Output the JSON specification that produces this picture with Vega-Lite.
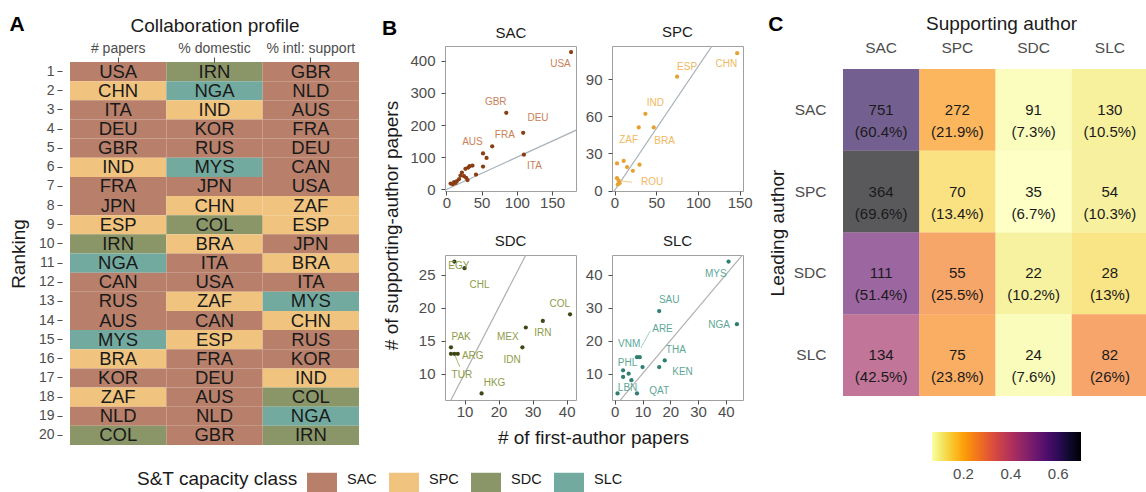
{
  "$schema": "https://vega.github.io/schema/vega-lite/v6.json",
  "padding": {"left": 9, "top": 14, "right": 0, "bottom": 0},
  "config": {
    "font": "Liberation Sans",
    "view": {"stroke": null},
    "axis": {"labelColor": "#4d4d4d", "tickColor": "#4d4d4d", "titleColor": "#1a1a1a", "labelFontSize": 15, "titleFontSize": 19, "titleFontWeight": "normal", "grid": false, "domain": false, "tickSize": 4, "labelPadding": 3},
    "title": {"fontWeight": "normal", "color": "#1a1a1a"},
    "legend": {"padding": 0}
  },
  "datasets": {
    "profile": [
      {"metric": "# papers", "rank": 1, "country": "USA", "cls": "SAC"},
      {"metric": "# papers", "rank": 2, "country": "CHN", "cls": "SPC"},
      {"metric": "# papers", "rank": 3, "country": "ITA", "cls": "SAC"},
      {"metric": "# papers", "rank": 4, "country": "DEU", "cls": "SAC"},
      {"metric": "# papers", "rank": 5, "country": "GBR", "cls": "SAC"},
      {"metric": "# papers", "rank": 6, "country": "IND", "cls": "SPC"},
      {"metric": "# papers", "rank": 7, "country": "FRA", "cls": "SAC"},
      {"metric": "# papers", "rank": 8, "country": "JPN", "cls": "SAC"},
      {"metric": "# papers", "rank": 9, "country": "ESP", "cls": "SPC"},
      {"metric": "# papers", "rank": 10, "country": "IRN", "cls": "SDC"},
      {"metric": "# papers", "rank": 11, "country": "NGA", "cls": "SLC"},
      {"metric": "# papers", "rank": 12, "country": "CAN", "cls": "SAC"},
      {"metric": "# papers", "rank": 13, "country": "RUS", "cls": "SAC"},
      {"metric": "# papers", "rank": 14, "country": "AUS", "cls": "SAC"},
      {"metric": "# papers", "rank": 15, "country": "MYS", "cls": "SLC"},
      {"metric": "# papers", "rank": 16, "country": "BRA", "cls": "SPC"},
      {"metric": "# papers", "rank": 17, "country": "KOR", "cls": "SAC"},
      {"metric": "# papers", "rank": 18, "country": "ZAF", "cls": "SPC"},
      {"metric": "# papers", "rank": 19, "country": "NLD", "cls": "SAC"},
      {"metric": "# papers", "rank": 20, "country": "COL", "cls": "SDC"},
      {"metric": "% domestic", "rank": 1, "country": "IRN", "cls": "SDC"},
      {"metric": "% domestic", "rank": 2, "country": "NGA", "cls": "SLC"},
      {"metric": "% domestic", "rank": 3, "country": "IND", "cls": "SPC"},
      {"metric": "% domestic", "rank": 4, "country": "KOR", "cls": "SAC"},
      {"metric": "% domestic", "rank": 5, "country": "RUS", "cls": "SAC"},
      {"metric": "% domestic", "rank": 6, "country": "MYS", "cls": "SLC"},
      {"metric": "% domestic", "rank": 7, "country": "JPN", "cls": "SAC"},
      {"metric": "% domestic", "rank": 8, "country": "CHN", "cls": "SPC"},
      {"metric": "% domestic", "rank": 9, "country": "COL", "cls": "SDC"},
      {"metric": "% domestic", "rank": 10, "country": "BRA", "cls": "SPC"},
      {"metric": "% domestic", "rank": 11, "country": "ITA", "cls": "SAC"},
      {"metric": "% domestic", "rank": 12, "country": "USA", "cls": "SAC"},
      {"metric": "% domestic", "rank": 13, "country": "ZAF", "cls": "SPC"},
      {"metric": "% domestic", "rank": 14, "country": "CAN", "cls": "SAC"},
      {"metric": "% domestic", "rank": 15, "country": "ESP", "cls": "SPC"},
      {"metric": "% domestic", "rank": 16, "country": "FRA", "cls": "SAC"},
      {"metric": "% domestic", "rank": 17, "country": "DEU", "cls": "SAC"},
      {"metric": "% domestic", "rank": 18, "country": "AUS", "cls": "SAC"},
      {"metric": "% domestic", "rank": 19, "country": "NLD", "cls": "SAC"},
      {"metric": "% domestic", "rank": 20, "country": "GBR", "cls": "SAC"},
      {"metric": "% intl: support", "rank": 1, "country": "GBR", "cls": "SAC"},
      {"metric": "% intl: support", "rank": 2, "country": "NLD", "cls": "SAC"},
      {"metric": "% intl: support", "rank": 3, "country": "AUS", "cls": "SAC"},
      {"metric": "% intl: support", "rank": 4, "country": "FRA", "cls": "SAC"},
      {"metric": "% intl: support", "rank": 5, "country": "DEU", "cls": "SAC"},
      {"metric": "% intl: support", "rank": 6, "country": "CAN", "cls": "SAC"},
      {"metric": "% intl: support", "rank": 7, "country": "USA", "cls": "SAC"},
      {"metric": "% intl: support", "rank": 8, "country": "ZAF", "cls": "SPC"},
      {"metric": "% intl: support", "rank": 9, "country": "ESP", "cls": "SPC"},
      {"metric": "% intl: support", "rank": 10, "country": "JPN", "cls": "SAC"},
      {"metric": "% intl: support", "rank": 11, "country": "BRA", "cls": "SPC"},
      {"metric": "% intl: support", "rank": 12, "country": "ITA", "cls": "SAC"},
      {"metric": "% intl: support", "rank": 13, "country": "MYS", "cls": "SLC"},
      {"metric": "% intl: support", "rank": 14, "country": "CHN", "cls": "SPC"},
      {"metric": "% intl: support", "rank": 15, "country": "RUS", "cls": "SAC"},
      {"metric": "% intl: support", "rank": 16, "country": "KOR", "cls": "SAC"},
      {"metric": "% intl: support", "rank": 17, "country": "IND", "cls": "SPC"},
      {"metric": "% intl: support", "rank": 18, "country": "COL", "cls": "SDC"},
      {"metric": "% intl: support", "rank": 19, "country": "NGA", "cls": "SLC"},
      {"metric": "% intl: support", "rank": 20, "country": "IRN", "cls": "SDC"}
    ],
    "pts": [
      {"cls": "SAC", "x": 177, "y": 427}, {"cls": "SAC", "x": 85, "y": 238}, {"cls": "SAC", "x": 109, "y": 176},
      {"cls": "SAC", "x": 110, "y": 108}, {"cls": "SAC", "x": 65, "y": 134}, {"cls": "SAC", "x": 52, "y": 112},
      {"cls": "SAC", "x": 57, "y": 98}, {"cls": "SAC", "x": 52, "y": 71}, {"cls": "SAC", "x": 42, "y": 46},
      {"cls": "SAC", "x": 37, "y": 74}, {"cls": "SAC", "x": 33, "y": 72}, {"cls": "SAC", "x": 31, "y": 68},
      {"cls": "SAC", "x": 27, "y": 64}, {"cls": "SAC", "x": 22, "y": 52}, {"cls": "SAC", "x": 20, "y": 43},
      {"cls": "SAC", "x": 25, "y": 41}, {"cls": "SAC", "x": 28, "y": 36}, {"cls": "SAC", "x": 30, "y": 29},
      {"cls": "SAC", "x": 15, "y": 26}, {"cls": "SAC", "x": 11, "y": 23}, {"cls": "SAC", "x": 6, "y": 18},
      {"cls": "SAC", "x": 13, "y": 20}, {"cls": "SAC", "x": 9, "y": 16}, {"cls": "SAC", "x": 18, "y": 32},
      {"cls": "SPC", "x": 147, "y": 111}, {"cls": "SPC", "x": 75, "y": 92}, {"cls": "SPC", "x": 37, "y": 62},
      {"cls": "SPC", "x": 29, "y": 51}, {"cls": "SPC", "x": 47, "y": 51}, {"cls": "SPC", "x": 3, "y": 22},
      {"cls": "SPC", "x": 11, "y": 24}, {"cls": "SPC", "x": 15, "y": 19}, {"cls": "SPC", "x": 22, "y": 16},
      {"cls": "SPC", "x": 30, "y": 21}, {"cls": "SPC", "x": 3, "y": 10}, {"cls": "SPC", "x": 5, "y": 8},
      {"cls": "SPC", "x": 4, "y": 5}, {"cls": "SPC", "x": 6, "y": 6},
      {"cls": "SDC", "x": 7, "y": 27}, {"cls": "SDC", "x": 10, "y": 26}, {"cls": "SDC", "x": 41, "y": 19},
      {"cls": "SDC", "x": 33, "y": 18}, {"cls": "SDC", "x": 28, "y": 17}, {"cls": "SDC", "x": 27, "y": 14},
      {"cls": "SDC", "x": 15, "y": 7}, {"cls": "SDC", "x": 6, "y": 14}, {"cls": "SDC", "x": 6, "y": 13},
      {"cls": "SDC", "x": 7, "y": 13}, {"cls": "SDC", "x": 8, "y": 13},
      {"cls": "SLC", "x": 41, "y": 44}, {"cls": "SLC", "x": 44, "y": 25}, {"cls": "SLC", "x": 16, "y": 29},
      {"cls": "SLC", "x": 8, "y": 15}, {"cls": "SLC", "x": 9, "y": 15}, {"cls": "SLC", "x": 10, "y": 12},
      {"cls": "SLC", "x": 18, "y": 14}, {"cls": "SLC", "x": 16, "y": 12}, {"cls": "SLC", "x": 3, "y": 11},
      {"cls": "SLC", "x": 5, "y": 10}, {"cls": "SLC", "x": 3, "y": 9}, {"cls": "SLC", "x": 6, "y": 8},
      {"cls": "SLC", "x": 1, "y": 4}, {"cls": "SLC", "x": 8, "y": 4}
    ],
    "labs": [
      {"cls": "SAC", "x": 162, "y": 390, "name": "USA"}, {"cls": "SAC", "x": 70, "y": 272, "name": "GBR"},
      {"cls": "SAC", "x": 130, "y": 222, "name": "DEU"}, {"cls": "SAC", "x": 83, "y": 168, "name": "FRA"},
      {"cls": "SAC", "x": 37, "y": 147, "name": "AUS"}, {"cls": "SAC", "x": 125, "y": 72, "name": "ITA"},
      {"cls": "SPC", "x": 134, "y": 102, "name": "CHN"}, {"cls": "SPC", "x": 87, "y": 100, "name": "ESP"},
      {"cls": "SPC", "x": 49, "y": 71, "name": "IND"}, {"cls": "SPC", "x": 17, "y": 41, "name": "ZAF"},
      {"cls": "SPC", "x": 60, "y": 40, "name": "BRA"}, {"cls": "SPC", "x": 45, "y": 7, "name": "ROU"},
      {"cls": "SDC", "x": 8.3, "y": 26.3, "name": "EGY"}, {"cls": "SDC", "x": 14.4, "y": 23.5, "name": "CHL"},
      {"cls": "SDC", "x": 38, "y": 20.6, "name": "COL"}, {"cls": "SDC", "x": 33, "y": 16.1, "name": "IRN"},
      {"cls": "SDC", "x": 22.7, "y": 15.6, "name": "MEX"}, {"cls": "SDC", "x": 24, "y": 12.1, "name": "IDN"},
      {"cls": "SDC", "x": 18.8, "y": 8.6, "name": "HKG"}, {"cls": "SDC", "x": 9, "y": 15.6, "name": "PAK"},
      {"cls": "SDC", "x": 12.4, "y": 12.7, "name": "ARG"}, {"cls": "SDC", "x": 9.2, "y": 9.8, "name": "TUR"},
      {"cls": "SLC", "x": 36.4, "y": 40.2, "name": "MYS"}, {"cls": "SLC", "x": 19.6, "y": 32.2, "name": "SAU"},
      {"cls": "SLC", "x": 37.6, "y": 24.8, "name": "NGA"}, {"cls": "SLC", "x": 17.2, "y": 23.5, "name": "ARE"},
      {"cls": "SLC", "x": 5.2, "y": 19.1, "name": "VNM"}, {"cls": "SLC", "x": 22, "y": 17.3, "name": "THA"},
      {"cls": "SLC", "x": 4.6, "y": 13.3, "name": "PHL"}, {"cls": "SLC", "x": 24.4, "y": 10.6, "name": "KEN"},
      {"cls": "SLC", "x": 16, "y": 4.8, "name": "QAT"}, {"cls": "SLC", "x": 4.6, "y": 5.5, "name": "LBN"}
    ],
    "segs": [
      {"cls": "SPC", "x": 5, "y": 8, "x2": 21, "y2": 6.8},
      {"cls": "SDC", "x": 7, "y": 13, "x2": 8.6, "y2": 11},
      {"cls": "SLC", "x": 9.4, "y": 17.8, "x2": 12.8, "y2": 23}
    ],
    "diag": [
      {"cls": "SAC", "x": -100, "y": -100, "x2": 1000, "y2": 1000},
      {"cls": "SPC", "x": -100, "y": -100, "x2": 1000, "y2": 1000},
      {"cls": "SDC", "x": -100, "y": -100, "x2": 1000, "y2": 1000},
      {"cls": "SLC", "x": -100, "y": -100, "x2": 1000, "y2": 1000}
    ],
    "heat": [
      {"lead": "SAC", "support": "SAC", "share": 0.604, "label": "751\n(60.4%)"},
      {"lead": "SAC", "support": "SPC", "share": 0.219, "label": "272\n(21.9%)"},
      {"lead": "SAC", "support": "SDC", "share": 0.073, "label": "91\n(7.3%)"},
      {"lead": "SAC", "support": "SLC", "share": 0.105, "label": "130\n(10.5%)"},
      {"lead": "SPC", "support": "SAC", "share": 0.696, "label": "364\n(69.6%)"},
      {"lead": "SPC", "support": "SPC", "share": 0.134, "label": "70\n(13.4%)"},
      {"lead": "SPC", "support": "SDC", "share": 0.067, "label": "35\n(6.7%)"},
      {"lead": "SPC", "support": "SLC", "share": 0.103, "label": "54\n(10.3%)"},
      {"lead": "SDC", "support": "SAC", "share": 0.514, "label": "111\n(51.4%)"},
      {"lead": "SDC", "support": "SPC", "share": 0.255, "label": "55\n(25.5%)"},
      {"lead": "SDC", "support": "SDC", "share": 0.102, "label": "22\n(10.2%)"},
      {"lead": "SDC", "support": "SLC", "share": 0.13, "label": "28\n(13%)"},
      {"lead": "SLC", "support": "SAC", "share": 0.425, "label": "134\n(42.5%)"},
      {"lead": "SLC", "support": "SPC", "share": 0.238, "label": "75\n(23.8%)"},
      {"lead": "SLC", "support": "SDC", "share": 0.076, "label": "24\n(7.6%)"},
      {"lead": "SLC", "support": "SLC", "share": 0.26, "label": "82\n(26%)"}
    ]
  },
  "bounds": "flush",
  "columns": 4,
  "spacing": {"row": 64, "column": 36},
  "concat": [
    {
      "title": {"text": "A", "anchor": "start", "frame": "bounds", "fontSize": 21, "fontWeight": "bold", "color": "#000000", "offset": 0, "dy": 19},
      "width": 339,
      "height": 145,
      "data": {"name": "profile"},
      "encoding": {
        "x": {"field": "metric", "type": "nominal", "sort": ["# papers", "% domestic", "% intl: support"],
              "scale": {"range": [0, 289], "paddingInner": 0, "paddingOuter": 0},
              "axis": {"orient": "top", "title": "Collaboration profile", "titleX": 144.5, "labelAngle": 0, "offset": -16, "tickSize": 5, "labelPadding": 2, "labelFontSize": 14, "titlePadding": 6}},
        "y": {"field": "rank", "type": "ordinal",
              "scale": {"range": [16, 399], "paddingInner": 0, "paddingOuter": 0},
              "axis": {"title": "Ranking", "titleY": 207.5, "offset": 8, "tickSize": 5, "labelPadding": 3, "labelFontSize": 14, "titlePadding": 10}}
      },
      "layer": [
        {
          "mark": {"type": "rect"},
          "encoding": {
            "color": {"field": "cls", "type": "nominal",
              "scale": {"domain": ["SAC", "SPC", "SDC", "SLC"], "range": ["#b8806a", "#f0c47e", "#8a9668", "#72aaa0"]},
              "legend": {"orient": "none", "legendX": 67, "legendY": 419, "direction": "horizontal",
                "title": "S&T capacity class", "titleOrient": "left", "titleFontSize": 19, "titleFontWeight": "normal", "titleColor": "#1a1a1a", "titlePadding": 9, "titleBaseline": "middle", "titleAnchor": "middle",
                "symbolType": "M-1,-0.5H1V0.9H-1Z", "symbolSize": 900, "symbolStrokeWidth": 0, "symbolOpacity": 1,
                "labelFontSize": 14.5, "labelColor": "#1a1a1a", "labelOffset": 10, "columnPadding": 12}}
          }
        },
        {
          "mark": {"type": "text", "fontSize": 18.5, "color": "#1a1a1a"},
          "encoding": {"text": {"field": "country"}}
        }
      ]
    },
    {
      "title": {"text": "B", "anchor": "start", "frame": "bounds", "fontSize": 21, "fontWeight": "bold", "color": "#000000", "offset": 0, "dy": 14},
      "width": 131, "height": 145,
      "view": {"stroke": "#a0a0a0"},
      "resolve": {"axis": {"x": "independent"}},
      "encoding": {
        "y": {"field": "y", "type": "quantitative", "scale": {"domain": [-5, 446], "nice": false, "zero": false}, "axis": {"values": [0, 100, 200, 300, 400], "labelPadding": 6, "title": "# of supporting-author papers", "titleX": -44, "titleY": 179}}
      },
      "layer": [
        {"data": {"name": "diag"}, "transform": [{"filter": "datum.cls == 'SAC'"}], "mark": {"type": "rule", "clip": true, "color": "#aab3ba", "strokeWidth": 1.2},
         "encoding": {"x": {"field": "x", "type": "quantitative", "scale": {"domain": [-2, 184], "nice": false, "zero": false}, "axis": {"values": [0, 50, 100, 150], "title": null, "labelPadding": 0}}, "x2": {"field": "x2"}, "y2": {"field": "y2"}}},
        {"data": {"name": "pts"}, "transform": [{"filter": "datum.cls == 'SAC'"}], "mark": {"type": "circle", "size": 18, "opacity": 1, "color": "#8a3d12"},
         "encoding": {"x": {"field": "x", "type": "quantitative", "scale": {"domain": [-2, 184], "nice": false, "zero": false}, "axis": {"orient": "top", "title": "SAC", "labels": false, "ticks": false, "domain": false, "titlePadding": 6, "titleFontSize": 15}}}},
        {"data": {"name": "labs"}, "transform": [{"filter": "datum.cls == 'SAC'"}], "mark": {"type": "text", "fontSize": 10, "color": "#c98159"},
         "encoding": {"x": {"field": "x", "type": "quantitative", "scale": {"domain": [-2, 184], "nice": false, "zero": false}, "axis": null}, "text": {"field": "name"}}}
      ]
    },
    {
      "title": {"text": "SPC", "fontSize": 15, "offset": 6},
      "width": 131, "height": 145,
      "view": {"stroke": "#a0a0a0"},
      "encoding": {
        "x": {"field": "x", "type": "quantitative", "scale": {"domain": [-3, 154], "nice": false, "zero": false}, "axis": {"values": [0, 50, 100, 150], "title": null, "labelPadding": 0}},
        "y": {"field": "y", "type": "quantitative", "scale": {"domain": [-0.3, 116.8], "nice": false, "zero": false}, "axis": {"values": [0, 30, 60, 90], "title": null, "labelPadding": 6}}
      },
      "layer": [
        {"data": {"name": "diag"}, "transform": [{"filter": "datum.cls == 'SPC'"}], "mark": {"type": "rule", "clip": true, "color": "#aab3ba", "strokeWidth": 1.2}, "encoding": {"x2": {"field": "x2"}, "y2": {"field": "y2"}}},
        {"data": {"name": "segs"}, "transform": [{"filter": "datum.cls == 'SPC'"}], "mark": {"type": "rule", "color": "#f0bb66", "strokeWidth": 0.8}, "encoding": {"x2": {"field": "x2"}, "y2": {"field": "y2"}}},
        {"data": {"name": "pts"}, "transform": [{"filter": "datum.cls == 'SPC'"}], "mark": {"type": "circle", "size": 18, "opacity": 1, "color": "#e5a232"}},
        {"data": {"name": "labs"}, "transform": [{"filter": "datum.cls == 'SPC'"}], "mark": {"type": "text", "fontSize": 10, "color": "#f0b85f"}, "encoding": {"text": {"field": "name"}}}
      ]
    },
    {
      "title": {"text": "C", "anchor": "start", "frame": "bounds", "fontSize": 21, "fontWeight": "bold", "color": "#000000", "offset": 0, "dy": 21},
      "width": 369,
      "height": 145,
      "data": {"name": "heat"},
      "encoding": {
        "x": {"field": "support", "type": "nominal", "sort": ["SAC", "SPC", "SDC", "SLC"],
              "scale": {"range": [64, 369], "paddingInner": 0, "paddingOuter": 0},
              "axis": {"orient": "top", "title": "Supporting author", "titleX": 222, "offset": -23, "ticks": false, "labelPadding": 14, "labelAngle": 0, "labelFontSize": 15.5, "titlePadding": 7}},
        "y": {"field": "lead", "type": "nominal", "sort": ["SAC", "SPC", "SDC", "SLC"],
              "scale": {"range": [23, 350], "paddingInner": 0, "paddingOuter": 0},
              "axis": {"title": "Leading author", "titleY": 186.5, "offset": -64, "ticks": false, "labelPadding": 17, "labelFontSize": 15.5, "titlePadding": 6}}
      },
      "layer": [
        {
          "mark": {"type": "rect", "fillOpacity": 0.65},
          "encoding": {
            "color": {"field": "share", "type": "quantitative",
              "scale": {"scheme": "inferno", "reverse": true, "domain": [0.067, 0.696]},
              "legend": {"orient": "none", "legendX": 153, "legendY": 386, "direction": "horizontal", "title": null,
                "gradientLength": 149, "gradientThickness": 29, "gradientStrokeWidth": 0, "values": [0.2, 0.4, 0.6],
                "labelFontSize": 15, "labelColor": "#4d4d4d", "labelOffset": 6}}
          }
        },
        {
          "mark": {"type": "text", "fontSize": 15, "lineBreak": "\n", "lineHeight": 22, "color": "#1a1a1a"},
          "encoding": {"text": {"field": "label"}}
        }
      ]
    },
    {"width": 1, "height": 1, "data": {"values": []}, "mark": "point"},
    {
      "title": {"text": "SDC", "fontSize": 15, "offset": 6},
      "width": 131, "height": 145,
      "view": {"stroke": "#a0a0a0"},
      "encoding": {
        "x": {"field": "x", "type": "quantitative", "scale": {"domain": [4.25, 42.75], "nice": false, "zero": false}, "axis": {"values": [10, 20, 30, 40], "labelPadding": 0, "title": "# of first-author papers", "titleX": 148, "titleY": 28}},
        "y": {"field": "y", "type": "quantitative", "scale": {"domain": [6, 28], "nice": false, "zero": false}, "axis": {"values": [10, 15, 20, 25], "title": null, "labelPadding": 6}}
      },
      "layer": [
        {"data": {"name": "diag"}, "transform": [{"filter": "datum.cls == 'SDC'"}], "mark": {"type": "rule", "clip": true, "color": "#b0b0b0", "strokeWidth": 1.2}, "encoding": {"x2": {"field": "x2"}, "y2": {"field": "y2"}}},
        {"data": {"name": "segs"}, "transform": [{"filter": "datum.cls == 'SDC'"}], "mark": {"type": "rule", "color": "#9aa55a", "strokeWidth": 0.8}, "encoding": {"x2": {"field": "x2"}, "y2": {"field": "y2"}}},
        {"data": {"name": "pts"}, "transform": [{"filter": "datum.cls == 'SDC'"}], "mark": {"type": "circle", "size": 18, "opacity": 1, "color": "#3f4716"}},
        {"data": {"name": "labs"}, "transform": [{"filter": "datum.cls == 'SDC'"}], "mark": {"type": "text", "fontSize": 10, "color": "#8f9b4b"}, "encoding": {"text": {"field": "name"}}}
      ]
    },
    {
      "title": {"text": "SLC", "fontSize": 15, "offset": 6},
      "width": 131, "height": 145,
      "view": {"stroke": "#a0a0a0"},
      "encoding": {
        "x": {"field": "x", "type": "quantitative", "scale": {"domain": [-1, 46.2], "nice": false, "zero": false}, "axis": {"values": [0, 10, 20, 30, 40], "title": null, "labelPadding": 0}},
        "y": {"field": "y", "type": "quantitative", "scale": {"domain": [2, 46], "nice": false, "zero": false}, "axis": {"values": [10, 20, 30, 40], "title": null, "labelPadding": 6}}
      },
      "layer": [
        {"data": {"name": "diag"}, "transform": [{"filter": "datum.cls == 'SLC'"}], "mark": {"type": "rule", "clip": true, "color": "#b0b0b0", "strokeWidth": 1.2}, "encoding": {"x2": {"field": "x2"}, "y2": {"field": "y2"}}},
        {"data": {"name": "segs"}, "transform": [{"filter": "datum.cls == 'SLC'"}], "mark": {"type": "rule", "color": "#8cc0b4", "strokeWidth": 0.8}, "encoding": {"x2": {"field": "x2"}, "y2": {"field": "y2"}}},
        {"data": {"name": "pts"}, "transform": [{"filter": "datum.cls == 'SLC'"}], "mark": {"type": "circle", "size": 18, "opacity": 1, "color": "#2e7f70"}},
        {"data": {"name": "labs"}, "transform": [{"filter": "datum.cls == 'SLC'"}], "mark": {"type": "text", "fontSize": 10, "color": "#5ea797"}, "encoding": {"text": {"field": "name"}}}
      ]
    },
    {"width": 1, "height": 1, "data": {"values": []}, "mark": "point"}
  ]
}
